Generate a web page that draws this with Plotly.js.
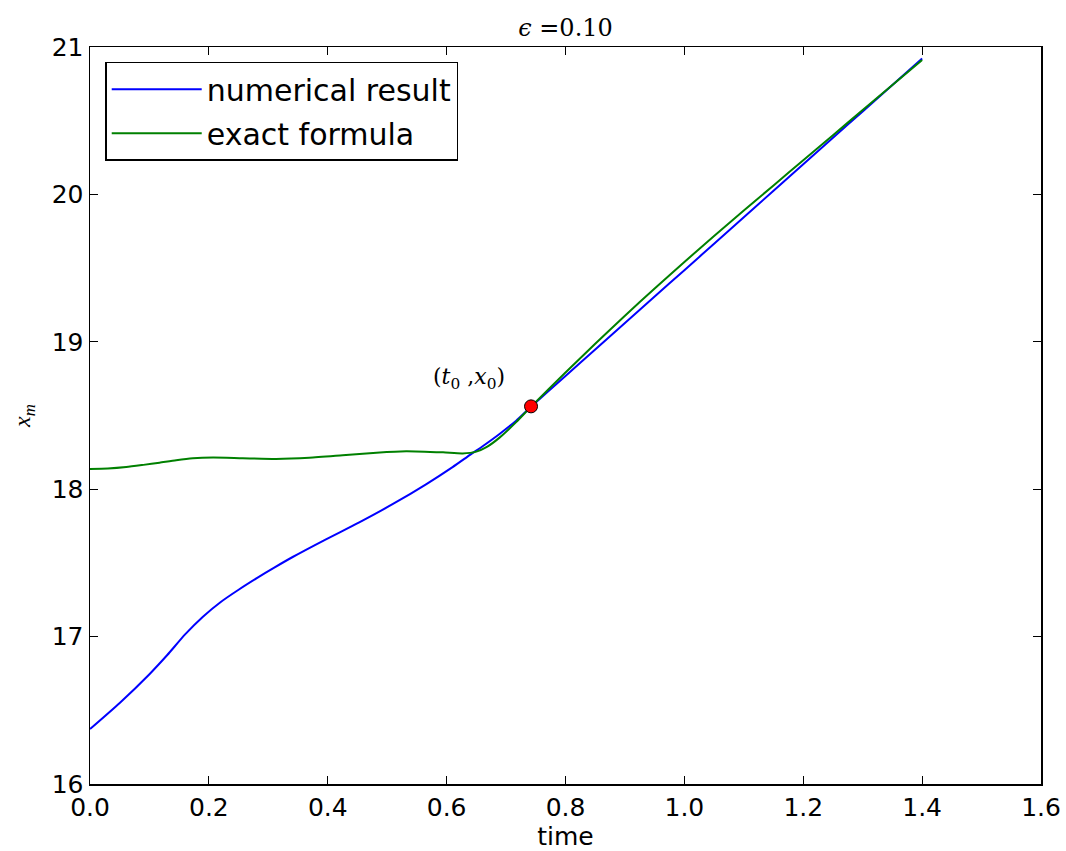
<!DOCTYPE html>
<html>
<head>
<meta charset="utf-8">
<script src="https://cdn.plot.ly/plotly-3.0.1.min.js"></script>
<style>html,body{margin:0;padding:0;background:#fff;}#chart{width:1066px;height:851px;}</style>
</head>
<body>
<div id="chart"></div>
<script>
// numerical result
const tNum = [0.000,0.050,0.100,0.130,0.160,0.190,0.220,0.250,0.280,0.310,0.341,0.397,0.453,0.509,0.566,0.610,0.640,0.660,0.689,0.717,0.742,0.800,0.850,0.900,0.950,1.000,1.050,1.100,1.150,1.200,1.250,1.300,1.350,1.400];
const xNum = [16.373,16.55,16.745,16.875,17.015,17.135,17.235,17.318,17.395,17.468,17.54,17.66,17.775,17.898,18.035,18.15,18.235,18.29,18.375,18.465,18.56,18.768,18.948,19.127,19.307,19.486,19.666,19.845,20.025,20.204,20.384,20.563,20.743,20.922];
// exact formula
const tExact = [0.000,0.030,0.061,0.090,0.117,0.145,0.173,0.207,0.257,0.313,0.369,0.425,0.482,0.532,0.594,0.627,0.650,0.667,0.689,0.717,0.742,0.800,0.850,0.900,0.950,1.000,1.050,1.100,1.150,1.200,1.250,1.300,1.350,1.400];
const xExact = [18.137,18.14,18.15,18.165,18.18,18.197,18.21,18.215,18.21,18.205,18.213,18.23,18.248,18.258,18.25,18.243,18.255,18.285,18.35,18.455,18.56,18.792,18.987,19.177,19.362,19.542,19.717,19.89,20.061,20.232,20.402,20.572,20.742,20.912];
// reference point
const t0 = [0.742];
const x0 = [18.562];
const xTicks = [0.0,0.2,0.4,0.6,0.8,1.0,1.2,1.4,1.6];
const xTickText = ["0.0","0.2","0.4","0.6","0.8","1.0","1.2","1.4","1.6"];
const yTicks = [16,17,18,19,20,21];

const traces = [
  {x:tNum, y:xNum, mode:'lines', name:'numerical result', legendgroup:'a',
   line:{color:'#0000ff', width:2, shape:'spline', smoothing:0.6}},
  {x:tExact, y:xExact, mode:'lines', name:'exact formula', legendgroup:'b',
   line:{color:'#008000', width:2, shape:'spline', smoothing:0.6}},
  {x:t0, y:x0, mode:'markers', showlegend:false,
   marker:{color:'#ff0000', size:13, line:{color:'#000', width:1}}}
];

const axisCommon = {showgrid:false, zeroline:false, showline:true, linecolor:'#000', linewidth:1.5,
  mirror:'ticks', ticks:'inside', ticklen:8, tickwidth:1, tickcolor:'#000',
  tickfont:{family:'DejaVu Sans', size:25, color:'#000'}};

const layout = {
  width:1066, height:851,
  margin:{l:90, r:25, t:47, b:67},
  paper_bgcolor:'#fff', plot_bgcolor:'#fff',
  showlegend:true,
  title:{text:'<i>ϵ</i> =0.10', x:0.5, xref:'paper', y:0.967, yanchor:'middle',
    font:{family:'DejaVu Serif', size:24, color:'#000'}},
  xaxis: Object.assign({}, axisCommon, {range:[0,1.6], tickvals:xTicks, ticktext:xTickText,
    title:{text:'time', font:{family:'DejaVu Sans', size:25, color:'#000'}, standoff:8}}),
  yaxis: Object.assign({}, axisCommon, {range:[16,21], tickvals:yTicks,
    title:{text:'<i>x</i><sub><i>m</i></sub>', font:{family:'Liberation Serif', size:24, color:'#000'}, standoff:14}}),
  legend:{x:0.016, y:0.98, xanchor:'left', yanchor:'top', bgcolor:'#fff', bordercolor:'#000', borderwidth:1.5,
    font:{family:'DejaVu Sans', size:30, color:'#000'}, tracegroupgap:2, traceorder:'grouped', itemwidth:90},
  annotations:[
    {x:0.638, y:18.75, xref:'x', yref:'y', showarrow:false,
     text:'(<i>t</i><sub>0</sub> ,<i>x</i><sub>0</sub>)', font:{family:'DejaVu Serif', size:22, color:'#000'}}
  ]
};

Plotly.newPlot('chart', traces, layout, {displayModeBar:false, staticPlot:true});
</script>
</body>
</html>
